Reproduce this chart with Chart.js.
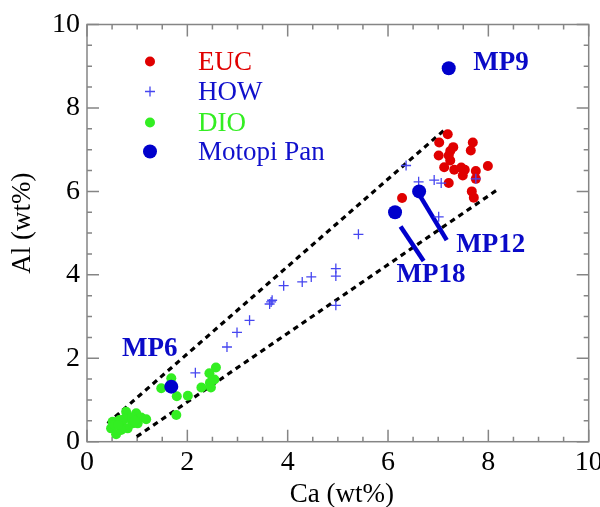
<!DOCTYPE html>
<html>
<head>
<meta charset="utf-8">
<script src="https://cdn.jsdelivr.net/npm/chart.js@4"></script>
<style>
  html, body { margin: 0; padding: 0; background: #fff; }
  #wrap { width: 600px; height: 507px; }
</style>
</head>
<body>
<div id="wrap"><canvas id="chart"></canvas></div>
<script>
// EUC (red dots)
const eucCa = [7.19, 7.02, 7.69, 7.30, 7.24, 7.01, 7.65, 7.21, 7.24, 7.12, 7.32, 7.46, 7.53, 7.49, 7.75, 7.99, 7.75, 7.21, 7.67, 7.71, 6.28];
const eucAl = [7.37, 7.17, 7.17, 7.06, 6.97, 6.86, 6.98, 6.86, 6.74, 6.58, 6.52, 6.57, 6.52, 6.38, 6.49, 6.61, 6.30, 6.20, 6.00, 5.85, 5.84];

// HOW (blue crosses)
const howCa = [2.16, 2.79, 2.99, 3.24, 3.64, 3.69, 3.67, 3.92, 4.29, 4.47, 4.96, 4.96, 4.96, 5.41, 6.36, 6.61, 6.92, 7.06, 7.75, 7.01];
const howAl = [1.65, 2.27, 2.62, 2.91, 3.30, 3.39, 3.35, 3.74, 3.83, 3.95, 3.97, 4.15, 3.27, 4.97, 6.62, 6.23, 6.27, 6.20, 6.30, 5.39];

// DIO (green dots)
const dioCa = [1.48, 1.68, 1.79, 2.01, 1.78, 2.28, 2.44, 2.57, 2.54, 2.47, 2.45,
               0.51, 0.48, 0.58, 0.78, 0.85, 0.98, 1.08, 1.18, 0.91, 0.71, 0.65, 0.81, 1.01, 0.55, 0.75, 0.90, 0.68, 0.62, 0.95];
const dioAl = [1.28, 1.52, 1.09, 1.10, 0.64, 1.30, 1.64, 1.78, 1.49, 1.30, 1.41,
               0.48, 0.32, 0.18, 0.72, 0.58, 0.68, 0.58, 0.54, 0.44, 0.36, 0.52, 0.32, 0.44, 0.40, 0.55, 0.58, 0.28, 0.40, 0.50];

// Motopi Pan samples
const mpNames = ['MP6', 'MP18', 'MP12', 'MP9'];
const mpCa = [1.68, 6.14, 6.62, 7.21];
const mpAl = [1.32, 5.50, 6.00, 8.95];

// label anchors (data units) for the sample names
const mpLabelCa = [0.70, 6.17, 7.36, 7.70];
const mpLabelAl = [2.21, 3.99, 4.71, 9.07];

// leader lines MP12 / MP18
const mp12LineCa = [6.65, 7.17];
const mp12LineAl = [5.87, 4.83];
const mp18LineCa = [6.25, 6.71];
const mp18LineAl = [5.16, 4.33];

// dashed envelope
const upperCa = [0.41, 7.15];
const upperAl = [0.44, 7.50];
const lowerCa = [0.99, 8.18];
const lowerAl = [0.12, 6.04];

const xTicks = [0, 2, 4, 6, 8, 10];
const yTicks = [0, 2, 4, 6, 8, 10];

const SERIF = "'Liberation Serif', 'DejaVu Serif', serif";
const toPts = (xs, ys) => xs.map((x, i) => ({ x: x, y: ys[i] }));

const legendItems = [
    { text: 'EUC', color: '#e00000', textColor: '#e00000', kind: 'dot', r: 5 },
    { text: 'HOW', color: '#4646f0', textColor: '#1010cc', kind: 'cross', r: 5 },
    { text: 'DIO', color: '#33ee22', textColor: '#33ee22', kind: 'dot', r: 5 },
    { text: 'Motopi Pan', color: '#0000cc', textColor: '#1010cc', kind: 'dot', r: 7 }
];

const frame = {
    id: 'frame',
    beforeDatasetsDraw(chart) {
        const { ctx, chartArea: a, scales } = chart;
        ctx.save();
        ctx.strokeStyle = '#858585';
        ctx.lineWidth = 1.5;
        ctx.strokeRect(a.left, a.top, a.right - a.left, a.bottom - a.top);
        ctx.beginPath();
        for (let v = 0; v <= 10.001; v += 0.5) {
            const len = Math.abs(v % 2) < 0.001 ? 12 : 5;
            const px = scales.x.getPixelForValue(v);
            ctx.moveTo(px, a.bottom); ctx.lineTo(px, a.bottom - len);
            ctx.moveTo(px, a.top); ctx.lineTo(px, a.top + len);
            const py = scales.y.getPixelForValue(v);
            ctx.moveTo(a.left, py); ctx.lineTo(a.left + len, py);
            ctx.moveTo(a.right, py); ctx.lineTo(a.right - len, py);
        }
        ctx.stroke();
        ctx.restore();
    },
    afterDatasetsDraw(chart) {
        const { ctx, chartArea: a, scales } = chart;
        ctx.save();
        // legend
        ctx.font = '27px ' + SERIF;
        ctx.textBaseline = 'middle';
        ctx.textAlign = 'left';
        const rows = [37, 67, 98, 127];
        legendItems.forEach((item, i) => {
            const cx = a.left + 63, cy = a.top + rows[i];
            ctx.fillStyle = item.color;
            ctx.strokeStyle = item.color;
            if (item.kind === 'dot') {
                ctx.beginPath();
                ctx.arc(cx, cy, item.r, 0, Math.PI * 2);
                ctx.fill();
            } else {
                ctx.lineWidth = 1.3;
                ctx.beginPath();
                ctx.moveTo(cx - item.r, cy); ctx.lineTo(cx + item.r, cy);
                ctx.moveTo(cx, cy - item.r); ctx.lineTo(cx, cy + item.r);
                ctx.stroke();
            }
            ctx.fillStyle = item.textColor;
            ctx.fillText(item.text, a.left + 111, cy + 1);
        });
        // sample names
        ctx.font = 'bold 27px ' + SERIF;
        ctx.fillStyle = '#0a0ac8';
        mpNames.forEach((name, i) => {
            ctx.fillText(name, scales.x.getPixelForValue(mpLabelCa[i]), scales.y.getPixelForValue(mpLabelAl[i]));
        });
        // axis titles
        ctx.fillStyle = '#000';
        ctx.font = '27px ' + SERIF;
        ctx.textAlign = 'center';
        ctx.fillText('Ca (wt%)', (a.left + a.right) / 2 + 4, 495);
        ctx.translate(23, a.top + (a.bottom - a.top) / 2 - 10);
        ctx.rotate(-Math.PI / 2);
        ctx.fillText('Al (wt%)', 0, 0);
        ctx.restore();
    }
};

new Chart(document.getElementById('chart'), {
    type: 'scatter',
    data: {
        datasets: [
            {
                label: 'Motopi Pan',
                data: toPts(mpCa, mpAl),
                backgroundColor: '#0000cc',
                borderColor: '#0000cc',
                pointRadius: 7,
                borderWidth: 0
            },
            {
                label: 'HOW',
                data: toPts(howCa, howAl),
                pointStyle: 'cross',
                pointRadius: 5,
                borderColor: '#4646f0',
                borderWidth: 1.3
            },
            {
                label: 'EUC',
                data: toPts(eucCa, eucAl),
                backgroundColor: '#e00000',
                pointRadius: 5,
                borderWidth: 0
            },
            {
                label: 'DIO',
                data: toPts(dioCa, dioAl),
                backgroundColor: '#33ee22',
                pointRadius: 5,
                borderWidth: 0
            },
            {
                label: 'mp12line',
                data: toPts(mp12LineCa, mp12LineAl),
                showLine: true,
                borderColor: '#0000cc',
                borderWidth: 4.5,
                pointRadius: 0
            },
            {
                label: 'mp18line',
                data: toPts(mp18LineCa, mp18LineAl),
                showLine: true,
                borderColor: '#0000cc',
                borderWidth: 4.5,
                pointRadius: 0
            },
            {
                label: 'upper',
                data: toPts(upperCa, upperAl),
                showLine: true,
                borderColor: '#000',
                borderWidth: 3.2,
                borderDash: [5.5, 4.5],
                pointRadius: 0
            },
            {
                label: 'lower',
                data: toPts(lowerCa, lowerAl),
                showLine: true,
                borderColor: '#000',
                borderWidth: 3.2,
                borderDash: [5.5, 4.5],
                pointRadius: 0
            }
        ]
    },
    options: {
        responsive: true,
        maintainAspectRatio: false,
        animation: false,
        layout: { padding: { top: 24.5, right: 11.3, left: 0, bottom: 0 } },
        plugins: {
            legend: { display: false },
            tooltip: { enabled: false }
        },
        scales: {
            x: {
                type: 'linear',
                min: 0,
                max: 10,
                afterBuildTicks: (s) => { s.ticks = xTicks.map(v => ({ value: v })); },
                afterFit: (s) => { s.height = 65.3; s.paddingLeft = 0; s.paddingRight = 0; },
                grid: { display: false, drawTicks: false },
                border: { display: false },
                ticks: { color: '#000', padding: 4, font: { family: SERIF, size: 28 } }
            },
            y: {
                type: 'linear',
                min: 0,
                max: 10,
                afterBuildTicks: (s) => { s.ticks = yTicks.map(v => ({ value: v })); },
                afterFit: (s) => { s.width = 87; s.paddingTop = 0; s.paddingBottom = 0; },
                grid: { display: false, drawTicks: false },
                border: { display: false },
                ticks: { color: '#000', padding: 7, font: { family: SERIF, size: 28 } }
            }
        }
    },
    plugins: [frame]
});
</script>
</body>
</html>
